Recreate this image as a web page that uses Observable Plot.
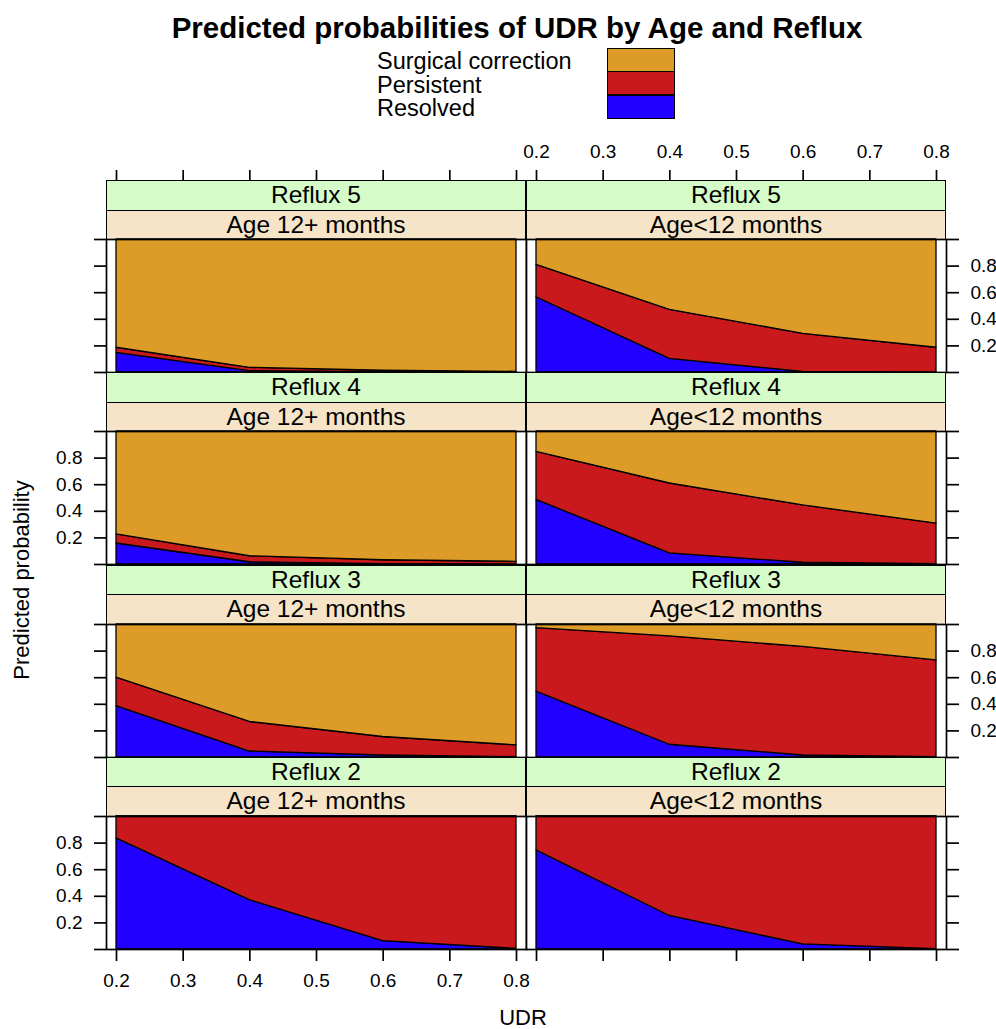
<!DOCTYPE html>
<html>
<head>
<meta charset="utf-8">
<script src="https://cdn.jsdelivr.net/npm/d3@7"></script>
<script src="https://cdn.jsdelivr.net/npm/@observablehq/plot@0.6"></script>
<style>
  body { margin: 0; background: #fff; }
  #root { position: relative; width: 996px; height: 1029px; overflow: hidden;
          font-family: "Liberation Sans", Arial, sans-serif; color: #000; background: #fff; }
  .abs { position: absolute; white-space: nowrap; }
  .strip { position: absolute; box-sizing: border-box; border: 1.5px solid #000;
           text-align: center; font-size: 24.5px; white-space: nowrap; }
</style>
</head>
<body>
<div id="root"></div>
<script>
// ---------------- data ----------------
const udr = [0.2, 0.4, 0.6, 0.8];
const xTicks = [0.2, 0.3, 0.4, 0.5, 0.6, 0.7, 0.8];
const yTicks = [0, 0.2, 0.4, 0.6, 0.8, 1];
const yLabelTicks = [0.2, 0.4, 0.6, 0.8];
const outcomes = ["Resolved", "Persistent", "Surgical correction"];
const outcomeColors = ["#2200ff", "#c9191c", "#dd9c27"];
const refluxRows = ["Reflux 5", "Reflux 4", "Reflux 3", "Reflux 2"];
const ageCols = ["Age 12+ months", "Age<12 months"];

// rows: Reflux 5, 4, 3, 2 ; values at UDR 0.2, 0.4, 0.6, 0.8
const resolvedOlder   = [[0.148, 0.010, 0.002, 0.000],
                         [0.158, 0.017, 0.002, 0.000],
                         [0.386, 0.045, 0.015, 0.003],
                         [0.836, 0.371, 0.063, 0.005]];
const persistentOlder = [[0.038, 0.025, 0.011, 0.005],
                         [0.068, 0.045, 0.030, 0.020],
                         [0.214, 0.222, 0.139, 0.088],
                         [0.164, 0.629, 0.937, 0.995]];
const surgicalOlder   = [[0.814, 0.965, 0.987, 0.995],
                         [0.774, 0.938, 0.968, 0.980],
                         [0.400, 0.733, 0.846, 0.909],
                         [0.000, 0.000, 0.000, 0.000]];
const resolvedYounger   = [[0.566, 0.103, 0.005, 0.000],
                           [0.486, 0.083, 0.013, 0.002],
                           [0.495, 0.096, 0.015, 0.002],
                           [0.745, 0.252, 0.038, 0.003]];
const persistentYounger = [[0.244, 0.368, 0.286, 0.186],
                           [0.361, 0.526, 0.431, 0.306],
                           [0.477, 0.815, 0.816, 0.728],
                           [0.255, 0.748, 0.962, 0.997]];
const surgicalYounger   = [[0.190, 0.529, 0.709, 0.814],
                           [0.153, 0.391, 0.556, 0.692],
                           [0.028, 0.089, 0.169, 0.270],
                           [0.000, 0.000, 0.000, 0.000]];

const stripColors = ["#d5fbc8", "#f5e4c7"];

// ---------------- layout ----------------
const root = document.getElementById("root");
const colX = [106, 526];
const boxW = 420;
const stripH = 29.5;
const panelH = 133;
const rowStep = 192.3;
const firstStripTop = 180;
const xDomain = [0.185, 0.815];
const fontFamily = '"Liberation Sans", Arial, sans-serif';
const fmt = d => d.toFixed(1);

function addDiv(cls, css, text) {
  const d = document.createElement("div");
  d.className = cls;
  Object.assign(d.style, css);
  if (text != null) d.textContent = text;
  root.appendChild(d);
  return d;
}

function panelData(r, c) {
  const res = c === 0 ? resolvedOlder : resolvedYounger;
  const per = c === 0 ? persistentOlder : persistentYounger;
  const sur = c === 0 ? surgicalOlder : surgicalYounger;
  const rows = [];
  udr.forEach((u, i) => {
    rows.push({udr: u, outcome: outcomes[0], p: res[r][i]});
    rows.push({udr: u, outcome: outcomes[1], p: per[r][i]});
    rows.push({udr: u, outcome: outcomes[2], p: sur[r][i]});
  });
  return rows;
}

const plotStyle = {background: "transparent", overflow: "visible", fontSize: "19px",
                   fontFamily, color: "#000"};

for (let r = 0; r < 4; r++) {
  const stripTop = firstStripTop + r * rowStep;
  const panelTop = stripTop + 2 * stripH;
  for (let c = 0; c < 2; c++) {
    const x0 = colX[c];
    // strips
    addDiv("strip", {left: x0 + "px", top: stripTop + "px", width: boxW + "px", height: (stripH + 1) + "px",
                     background: stripColors[0], lineHeight: (stripH - 2) + "px"}, refluxRows[r]);
    addDiv("strip", {left: x0 + "px", top: (stripTop + stripH) + "px", width: boxW + "px", height: (stripH + 1) + "px",
                     background: stripColors[1], lineHeight: (stripH - 2) + "px"}, ageCols[c]);

    const ml = 70, mr = 70, mt = 2, mb = r === 3 ? 60 : 2;
    const labelY = (c === 0 && (r === 1 || r === 3)) || (c === 1 && (r === 0 || r === 2));
    const marks = [
      Plot.frame({fill: "white"}),
      Plot.areaY(panelData(r, c), {x: "udr", y: "p", fill: "outcome", order: outcomes,
                                   stroke: "black", strokeWidth: 1.3}),
      Plot.frame({stroke: "black", strokeWidth: 1.7}),
      Plot.axisY({anchor: c === 0 ? "left" : "right", ticks: yTicks, tickSize: 12, tickPadding: 12,
                  strokeWidth: 1.7, label: null,
                  tickFormat: d => (labelY && yLabelTicks.includes(+d.toFixed(1))) ? fmt(d) : ""})
    ];
    if (r === 3) {
      marks.push(Plot.axisX({anchor: "bottom", ticks: xTicks, tickSize: 12, tickPadding: 12, strokeWidth: 1.7,
                             label: null, tickFormat: d => c === 0 ? fmt(d) : ""}));
    }
    const p = Plot.plot({
      width: boxW + ml + mr, height: panelH + mt + mb,
      marginLeft: ml, marginRight: mr, marginTop: mt, marginBottom: mb,
      x: {domain: xDomain, axis: null},
      y: {domain: [0, 1], axis: null},
      color: {domain: outcomes, range: outcomeColors},
      style: plotStyle,
      marks
    });
    p.style.position = "absolute";
    p.style.left = (x0 - ml) + "px";
    p.style.top = (panelTop - mt) + "px";
    root.appendChild(p);
  }
}

// top axes (above first strip row)
for (let c = 0; c < 2; c++) {
  const ml = 70, mr = 70, mt = 40;
  const p = Plot.plot({
    width: boxW + ml + mr, height: mt + 1,
    marginLeft: ml, marginRight: mr, marginTop: mt, marginBottom: 0,
    x: {domain: xDomain, axis: null},
    style: plotStyle,
    marks: [Plot.axisX({anchor: "top", ticks: xTicks, tickSize: 11, tickPadding: 12, strokeWidth: 1.7,
                        label: null, tickFormat: d => c === 1 ? fmt(d) : ""})]
  });
  p.style.position = "absolute";
  p.style.left = (colX[c] - ml) + "px";
  p.style.top = (firstStripTop - mt) + "px";
  root.appendChild(p);
}

// title
addDiv("abs", {left: "0px", width: "1034px", top: "11px", textAlign: "center", fontSize: "29.5px",
               fontWeight: "bold", lineHeight: "34px"}, "Predicted probabilities of UDR by Age and Reflux");

// legend (top to bottom: reverse of stacking order)
const legendOrder = [2, 1, 0];
legendOrder.forEach((k, i) => {
  addDiv("abs", {left: "377px", top: (50 + i * 23.5) + "px", fontSize: "23.5px", lineHeight: "22px"}, outcomes[k]);
  addDiv("abs", {left: "607px", top: (48 + i * 24) + "px", width: "68px", height: "24px", boxSizing: "border-box",
                 border: "1.5px solid #000", background: outcomeColors[k],
                 marginTop: i === 0 ? "0px" : "-1.5px"});
});

// axis titles
addDiv("abs", {left: "22px", top: "580px", fontSize: "22px", transform: "translate(-50%,-50%) rotate(-90deg)"},
       "Predicted probability");
addDiv("abs", {left: "0px", width: "1046px", top: "1005px", textAlign: "center", fontSize: "22px"}, "UDR");
</script>
</body>
</html>
